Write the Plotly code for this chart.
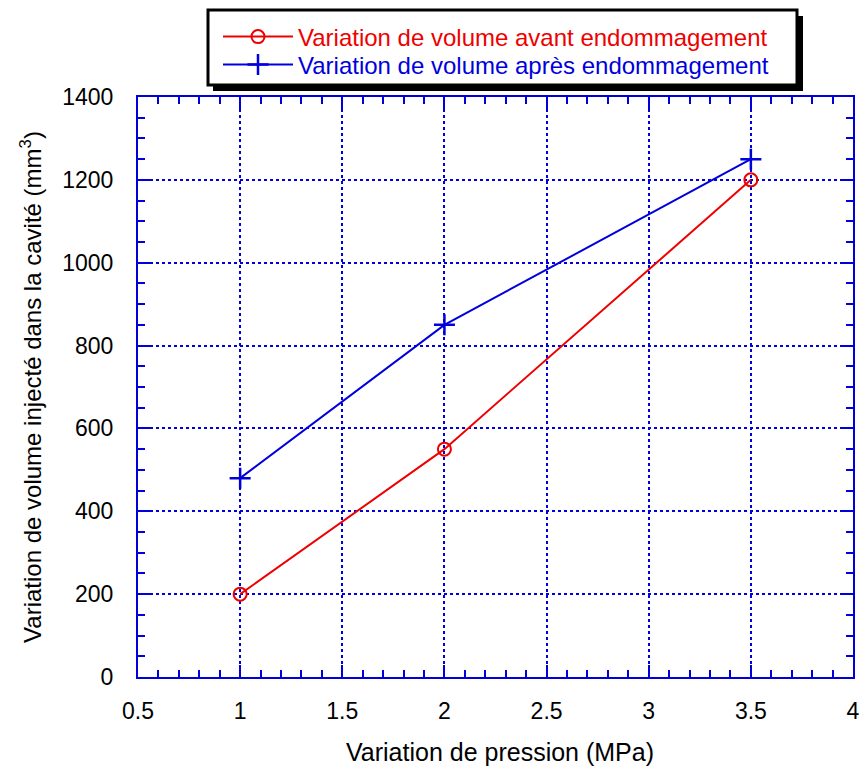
import plotly.graph_objects as go

# Données
pression = [1, 2, 3.5]
volume_avant = [200, 550, 1200]
volume_apres = [480, 850, 1250]

nom_avant = 'Variation de volume avant endommagement'
nom_apres = 'Variation de volume après endommagement'
titre_x = 'Variation de pression (MPa)'
titre_y = 'Variation de volume injecté dans la cavité (mm<sup>3</sup>)'

FONT = 'Liberation Sans, Arial, sans-serif'
BLEU = '#0000dd'
ROUGE = '#ee0000'

FIG_W, FIG_H = 859, 774

# zone de tracé en pixels
L, R, T, B = 138, 853, 97, 677
W, H = R - L, B - T


def px_x(v):
    return (v - L) / W


def px_y(v):
    return (B - v) / H


fig = go.Figure()

fig.add_trace(go.Scatter(
    x=pression, y=volume_avant,
    mode='lines+markers',
    name=f"<span style='color:{ROUGE}'>{nom_avant}</span>",
    line=dict(color=ROUGE, width=2),
    marker=dict(symbol='circle-open', size=13, color=ROUGE, line=dict(width=2, color=ROUGE)),
    legend='legend',
))

fig.add_trace(go.Scatter(
    x=pression, y=volume_apres,
    mode='lines+markers',
    name=f"<span style='color:{BLEU}'>{nom_apres}</span>",
    line=dict(color=BLEU, width=2),
    marker=dict(symbol='cross-thin-open', size=15, color=BLEU, line=dict(width=2.5, color=BLEU)),
    legend='legend2',
))

axe = dict(
    showline=True, linecolor=BLEU, linewidth=2, mirror='allticks',
    ticks='inside', ticklen=12, tickwidth=2, tickcolor=BLEU,
    showgrid=True, gridcolor=BLEU, gridwidth=1.5, griddash='dot',
    zeroline=False, automargin=False, ticklabeloverflow='allow',
    tickfont=dict(family=FONT, size=23, color='black'),
)

fig.update_xaxes(
    **axe, range=[0.5, 4], dtick=0.5, tick0=0.5,
    minor=dict(dtick=0.1, ticks='inside', ticklen=7, tickwidth=2, tickcolor=BLEU, showgrid=False),
    ticklabelstandoff=12,
)
fig.update_yaxes(
    **axe, range=[0, 1400], dtick=200,
    minor=dict(dtick=50, ticks='inside', ticklen=7, tickwidth=2, tickcolor=BLEU, showgrid=False),
    title=dict(text=titre_y, standoff=14, font=dict(family=FONT, size=24, color='black')),
    ticklabelstandoff=18,
)

# titre de l'axe x
fig.add_annotation(text=titre_x, xref='paper', yref='paper',
                   x=px_x(500), y=px_y(752), xanchor='center', yanchor='middle',
                   showarrow=False, font=dict(family=FONT, size=25, color='black'))

# cadre de la légende avec ombre
fig.add_shape(type='rect', xref='paper', yref='paper', layer='below',
              x0=px_x(213), x1=px_x(803), y0=px_y(91), y1=px_y(16),
              fillcolor='black', line=dict(width=0))
fig.add_shape(type='rect', xref='paper', yref='paper', layer='below',
              x0=px_x(208), x1=px_x(797), y0=px_y(85), y1=px_y(10),
              fillcolor='white', line=dict(color='black', width=3))

leg = dict(
    x=px_x(218), xanchor='left', yanchor='middle',
    bgcolor='rgba(0,0,0,0)', borderwidth=0,
    font=dict(family=FONT, size=24),
    itemwidth=70,
)

fig.update_layout(
    width=FIG_W, height=FIG_H,
    margin=dict(l=L, r=FIG_W - R, t=T, b=FIG_H - B),
    paper_bgcolor='white', plot_bgcolor='white',
    font=dict(family=FONT, size=23, color='black'),
    showlegend=True,
    legend=dict(**leg, y=px_y(37)),
    legend2=dict(**leg, y=px_y(65)),
)

# pas de marge autour de la figure dans la page, pas de barre d'outils
fig.write_html('out.html', config={'displayModeBar': False},
               post_script="document.body.style.margin='0';document.body.style.overflow='hidden';")
